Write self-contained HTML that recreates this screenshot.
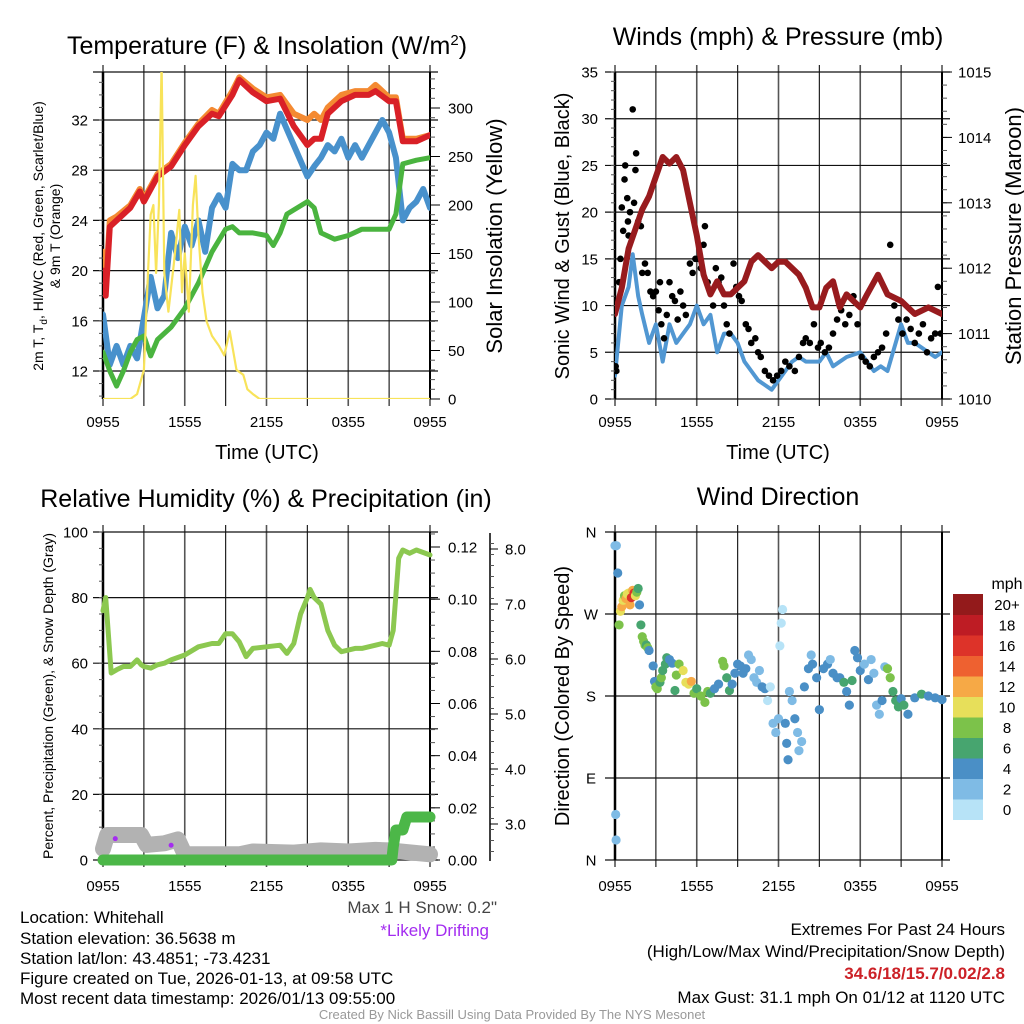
<!DOCTYPE html>
<html><head><meta charset="utf-8">
<style>
html,body{margin:0;padding:0;background:#fff;}
svg{display:block;font-family:"Liberation Sans",sans-serif;}
</style></head>
<body>
<svg id="fig" width="1024" height="1024" viewBox="0 0 1024 1024" xmlns="http://www.w3.org/2000/svg">
<rect width="1024" height="1024" fill="#fff"/>
<g id="static" font-size="17" fill="#000">
<text x="267" y="54" font-size="25" text-anchor="middle">Temperature (F) &amp; Insolation (W/m<tspan font-size="15" dy="-9">2</tspan><tspan dy="9">)</tspan></text>
<text x="778" y="45" font-size="25" text-anchor="middle">Winds (mph) &amp; Pressure (mb)</text>
<text x="266" y="507" font-size="25" text-anchor="middle">Relative Humidity (%) &amp; Precipitation (in)</text>
<text x="778" y="505" font-size="25" text-anchor="middle">Wind Direction</text>
<text x="267" y="459" font-size="20" text-anchor="middle">Time (UTC)</text>
<text x="778" y="459" font-size="20" text-anchor="middle">Time (UTC)</text>
<text transform="translate(43,236) rotate(-90)" font-size="14" text-anchor="middle">2m T, T<tspan font-size="10" dy="4">d</tspan><tspan dy="-4">, HI/WC (Red, Green, Scarlet/Blue)</tspan></text>
<text transform="translate(60,236) rotate(-90)" font-size="14" text-anchor="middle">&amp; 9m T (Orange)</text>
<text transform="translate(502,236) rotate(-90)" font-size="22" text-anchor="middle">Solar Insolation (Yellow)</text>
<text transform="translate(569,236) rotate(-90)" font-size="20" text-anchor="middle">Sonic Wind &amp; Gust (Blue, Black)</text>
<text transform="translate(1021,236) rotate(-90)" font-size="22" text-anchor="middle">Station Pressure (Maroon)</text>
<text transform="translate(53,696) rotate(-90)" font-size="14" text-anchor="middle">Percent, Precipitation (Green), &amp; Snow Depth (Gray)</text>
<text transform="translate(569,696) rotate(-90)" font-size="20" text-anchor="middle">Direction (Colored By Speed)</text>
<text x="1007" y="589" font-size="16" text-anchor="middle">mph</text>
<g>
<text x="20" y="923">Location: Whitehall</text>
<text x="20" y="944">Station elevation: 36.5638 m</text>
<text x="20" y="964">Station lat/lon: 43.4851; -73.4231</text>
<text x="20" y="984">Figure created on Tue, 2026-01-13, at 09:58 UTC</text>
<text x="20" y="1004">Most recent data timestamp: 2026/01/13 09:55:00</text>
</g>
<text x="497" y="913" text-anchor="end" fill="#444">Max 1 H Snow: 0.2"</text>
<text x="489" y="936" text-anchor="end" fill="#a32cf0">*Likely Drifting</text>
<g text-anchor="end">
<text x="1005" y="935">Extremes For Past 24 Hours</text>
<text x="1005" y="957">(High/Low/Max Wind/Precipitation/Snow Depth)</text>
<text x="1005" y="979" fill="#cc2127" font-weight="bold">34.6/18/15.7/0.02/2.8</text>
<text x="1005" y="1003">Max Gust: 31.1 mph On 01/12 at 1120 UTC</text>
</g>
<text x="512" y="1019" text-anchor="middle" font-size="13" fill="#999">Created By Nick Bassill Using Data Provided By The NYS Mesonet</text>
</g>
<g id="dyn"></g>
</svg>
<script>
// ---- Temperature panel data (hours since 0955 UTC) ----
const tHours=[0,0.2,0.5,1,2,2.7,3,4,5,6,7,8,8.5,9.5,10,11,12,13,14,15,15.5,16,16.5,17.5,18.5,19.5,20,21,21.5,22,23,24];
const tRed=[20,18,23.5,24,25,26.3,25.5,27.5,28.3,30,31.5,32.5,32.3,34,35.2,34.2,33.5,33.7,31.5,30,30.5,30.5,32.5,33.5,34,34,34.3,33.5,33.5,30.3,30.3,30.8];
const tOrange=[21.5,18.5,24,24.3,25.2,26.5,25.7,27.7,28.5,30.2,31.7,32.8,32.5,34.3,35.4,34.5,33.8,34,32.5,32,32.5,32,33,34,34.3,34.3,34.8,33.8,33.8,30.5,30.5,30.8];
const bHours=[0,0.5,1,1.5,2,2.5,3.5,4,4.5,5,5.5,6,6.5,7,7.5,8,8.5,9,9.5,10,10.5,11,11.5,12,12.5,13,15,15.5,16,16.5,17,17.5,18,18.5,19,19.5,20,20.5,21,21.5,22,22.5,23,23.5,24];
const tBlue=[16.5,12.5,14,12.5,14,13,19.5,17,18,23,21,23.5,22,24,21.5,25,26,25,28.5,28,28,29.5,30,31,30.5,32.5,27.5,28.3,29,30,29.5,30.5,29,30,29,30,31,32,31,29,24,25,25.5,26.5,25];
const gHours=[0,0.5,1,1.5,2,2.5,3,3.5,4,5,6,7,8,9,9.5,10,11,12,12.5,13,13.5,15,15.5,16,17,18,19,20,21,21.5,22,23,24];
const tGreen=[13.5,12,10.8,12,13.5,14.5,14.8,13.2,14.5,15.5,17,19,21.5,23.3,23.5,23,23,22.8,22,23,24.5,25.5,25,23,22.5,22.8,23.3,23.3,23.3,24.5,28.5,28.8,29];
const sHours=[0,2,2.5,3,3.3,3.5,3.7,3.9,4.1,4.3,4.5,4.8,5.2,5.6,5.8,6,6.3,6.6,6.8,7,7.3,7.6,8,8.5,8.9,9.3,9.8,10.3,10.6,11,11.5,24];
const solar=[0,0,5,30,130,190,200,130,200,345,130,90,140,195,110,150,90,200,230,170,110,80,65,55,45,70,30,25,10,5,0,0];
const tempTicks=[12,16,20,24,28,32];
const solarTicks=[0,50,100,150,200,250,300];
const timeLabels=["0955","1555","2155","0355","0955"];
// ---- Wind panel data ----
const wHours=[0,0.5,1,1.3,1.7,2,2.5,3,3.5,4,4.5,5,5.5,6,6.5,7,7.5,8,8.5,9,9.5,10,10.5,11,11.5,12,12.5,13,13.5,14,15,15.5,16,17,18,19,19.5,20,21,21.5,22,23,23.5,24];
const windSpd=[2.5,10,12,15.5,11,9,6,8,4,8,6,7,8,10,8,9,5,7,7,6,4,3,2,1.5,1,2,3,4,4.5,4,4,5,3.5,4.5,5,3,3.5,3,8,6,6,5,4.5,5];
const gustHours=[0.05,0.1,0.3,0.4,0.5,0.6,0.7,0.75,0.9,0.95,1,1.1,1.3,1.4,1.5,1.55,1.7,1.9,2,2.2,2.4,2.6,2.8,3,3.2,3.3,3.4,3.6,3.8,4,4.2,4.4,4.6,4.8,5,5.2,5.5,5.7,5.9,6.1,6.3,6.5,6.6,6.8,7,7.2,7.4,7.6,7.8,8,8.2,8.4,8.7,8.9,9.1,9.3,9.6,9.8,10,10.3,10.5,10.7,11,11.3,11.6,11.9,12.2,12.5,12.8,13.2,13.5,13.8,14,14.3,14.6,14.9,15.1,15.4,15.7,16,16.3,16.6,16.9,17.2,17.5,17.8,18.1,18.4,18.7,19,19.3,19.6,19.9,20.2,20.5,20.8,21.1,21.4,21.7,22,22.3,22.6,22.9,23.2,23.5,23.7,23.9];
const gusts=[3.5,3,12.5,15,20.5,18,23.5,25,21.5,19,17.5,20,31,21,24.5,26.3,19,18.5,13.5,14.5,13.5,11.5,11,11.5,9.5,12.5,8,6.5,9,12.5,11,10.5,8.5,11.5,10,9,14.5,13.5,15,15,14,16.5,18.5,12.5,11.5,10,14,12.5,13,10,8,7,14.5,12,11,10.5,8,7.5,6,6.5,5,4.5,3,2.5,2,2.5,3,4,3.5,3,4.5,6,6.5,6,8,5.5,6,5,5.5,7,8.5,9.5,8,9,11,8,4.5,4,3.5,4.5,5,5.5,7,16.5,10,8.5,7,8.5,7.5,6,7,8,5,6.5,7,12,7];
const pHours=[0,0.5,1,2,2.5,3,3.5,4,4.5,5,5.5,6,6.5,7,7.5,8,8.5,9,9.5,10,10.5,11,11.5,12,12.5,13,13.5,14,14.5,15,15.5,16,16.5,17,17.5,18,18.5,19.3,20,21,21.5,22,23,24];
const pressure=[1011.3,1011.7,1012.3,1012.9,1013.1,1013.4,1013.7,1013.6,1013.7,1013.5,1013,1012.5,1011.9,1011.6,1011.8,1011.6,1011.6,1011.7,1011.8,1012.1,1012.2,1012.1,1012,1012.1,1012.1,1012,1011.9,1011.7,1011.4,1011.4,1011.7,1011.8,1011.4,1011.6,1011.5,1011.4,1011.6,1011.9,1011.6,1011.5,1011.4,1011.3,1011.4,1011.3];
const windTicks=[0,5,10,15,20,25,30,35];
const pressTicks=[1010,1011,1012,1013,1014,1015];
// ---- RH panel data ----
const rhHours=[0,0.2,0.6,1,1.5,2,2.5,2.8,3,3.5,4,4.5,5,6,7,8,8.5,9,9.5,10,10.5,11,12,13,13.5,14,14.5,15,15.2,15.5,16,16.5,17,17.5,18,18.5,19,20,20.5,21,21.3,21.7,22,22.5,23,24];
const rh=[76,80,57,58,59,59,61,59.5,59,58.5,59.5,60,61,62.5,65,66,66,69,69,66.5,62,64.5,65,65.5,63,66,75,80,82.5,80,78,70,65.5,63.5,64,64.5,64.5,65.5,66,65.5,70,92,94.5,93.5,94.5,93];
const snowHours=[0,0.3,2.8,3.2,4.5,5.5,6,10,11,14,16,18,20,21,24];
const snowDepth=[2.55,2.8,2.8,2.62,2.65,2.72,2.45,2.45,2.5,2.48,2.52,2.5,2.53,2.52,2.45];
const precipHours=[0,21.2,21.3,21.5,22,22.3,24];
const precip=[0,0,0.005,0.0115,0.0115,0.0165,0.0165];
const driftHours=[0.9,5.0];
const driftPct=[6.5,4.5];
const rhTicks=[0,20,40,60,80,100];
const precipTicks=[0,0.02,0.04,0.06,0.08,0.10,0.12];
const snowTicks=[3,4,5,6,7,8];
// ---- Wind direction data ----
const dirHours=[0,0.1,0.2,0.3,0.4,0.5,0.6,0.7,0.8,0.9,1,1.1,1.2,1.3,1.4,1.5,1.6,1.7,1.8,1.9,2,2.1,2.2,2.3,2.4,2.5,2.8,2.9,3,3.1,3.3,3.4,3.5,3.7,3.8,4,4.2,4.4,4.5,4.7,5,5.2,5.4,5.6,5.8,6,6.3,6.6,6.8,7,7.3,7.6,7.9,8,8.2,8.4,8.6,8.8,9,9.2,9.4,9.6,9.8,10,10.2,10.4,10.6,10.8,11,11.2,11.4,11.6,11.8,12,12.1,12.2,12.3,12.5,12.6,12.7,12.8,13,13.2,13.4,13.5,13.7,13.9,14.2,14.4,14.5,14.8,15,15.3,15.6,15.8,16,16.3,16.5,16.8,17,17.2,17.4,17.6,17.8,18,18.3,18.6,18.8,19,19.2,19.4,19.6,19.8,20,20.2,20.4,20.6,20.8,21,21.2,21.5,22,22.5,23,23.5,24,0.05,0.08];
const dirDeg=[345,345,315,258,273,278,285,290,287,292,293,280,288,296,293,290,294,298,280,258,245,240,236,236,233,230,213,196,190,188,195,200,208,215,222,220,216,186,203,215,208,195,193,196,183,188,180,173,185,183,188,193,218,213,200,186,193,205,215,213,205,210,225,220,200,195,208,190,188,175,190,150,140,155,235,260,275,150,128,110,185,175,155,140,120,130,190,210,225,215,200,165,210,215,220,205,200,200,195,185,170,197,230,222,208,215,198,220,205,170,160,175,212,210,200,185,175,168,177,170,160,178,182,180,178,176,50,22];
const dirSpd=[2,2,4,8,11,12,10,8,12,10,11,13,17,12,16,10,8,6,4,6,8,8,8,6,8,4,4,4,8,8,6,8,6,6,6,4,4,6,8,8,10,10,10,12,8,6,8,8,8,6,4,4,8,8,6,6,4,4,4,4,4,4,2,2,2,2,2,4,4,0,0,2,2,2,0,0,0,4,4,4,2,2,4,2,2,2,4,4,2,4,4,4,4,4,2,4,4,4,6,4,4,6,4,4,4,2,4,2,2,2,2,4,2,8,8,6,6,6,4,6,4,4,6,4,4,4,2,2];
const dirTickLabels=["N","E","S","W","N"];
const speedBins=["0","2","4","6","8","10","12","14","16","18","20+"];
const speedColors=["#b7e3f7","#7fbbe5","#4a8fc6","#47a56f","#7cc24a","#e7df5a","#f6a946","#ee6130","#dd3329","#be1c24","#931a1b"];

const NS="http://www.w3.org/2000/svg";
const dyn=document.getElementById('dyn');
function el(parent,tag,attrs,txt){const e=document.createElementNS(NS,tag);for(const k in attrs)e.setAttribute(k,attrs[k]);if(txt!==undefined)e.textContent=txt;parent.appendChild(e);return e;}
function lin(d0,d1,r0,r1){return v=>r0+(v-d0)*(r1-r0)/(d1-d0);}

function panel(name){
  const g=el(dyn,'g',{});
  
  
  return g;
}
function grid(g,x0,x1,yT,yB,hy,showLabels,labY){
  for(let i=0;i<=8;i++){const x=x0+(x1-x0)*i/8;
    const l=el(g,'line',{x1:x,x2:x,y1:yT-7,y2:yB+7,stroke:i%2?'#222':'#555','stroke-width':i%2?1.2:1.6});
    
    
    if(i%2===0&&showLabels){const t=el(g,'text',{x:x,y:labY,'text-anchor':'middle','font-size':15},timeLabels[i/2]);
      
      }
  }
  hy.forEach(y=>{const l=el(g,'line',{x1:x0-10,x2:x1+8,y1:y,y2:y,stroke:'#111','stroke-width':1.2});
    
    });
  const f=el(g,'line',{x1:x0,x2:x0,y1:yT,y2:yB,stroke:'#000','stroke-width':2.5});
  
  
  const r=el(g,'line',{x1:x1,x2:x1,y1:yT,y2:yB,stroke:'#000','stroke-width':2});
  
  
}
function ticks(g,x,ys,len){ys.forEach(y=>{const l=el(g,'line',{x1:x,x2:x+len,y1:y,y2:y,stroke:'#555','stroke-width':1});
  
  });}
function label(g,x,y,s,anchor,name){const t=el(g,'text',{x:x,y:y+5.5,'text-anchor':anchor,'font-size':15},s);
  
  }
function path(g,xs,ys,fx,fy,attrs,name){let d='',pen=false;
  xs.forEach((h,i)=>{if(ys[i]===null){pen=false;return;}d+=(pen?'L':'M')+fx(h).toFixed(1)+','+fy(ys[i]).toFixed(1);pen=true;});
  const p=el(g,'path',Object.assign({d:d,fill:'none','stroke-linejoin':'round','stroke-linecap':'round'},attrs));
  
  return p;}

// ===== Panel 1 =====
(function(){
  const x0=103,x1=430,yT=72,yB=399;
  const fx=lin(0,24,x0,x1), fy=lin(12,32,371,120), fs=lin(0,300,399,108);
  const g=panel('temperature');
  const cp=el(g,'clipPath',{id:'c1'});el(cp,'rect',{x:x0,y:yT,width:x1-x0,height:yB-yT});
  grid(g,x0,x1,yT,yB,tempTicks.map(fy).concat([yT]),true,427);
  const minor=[];for(let v=10;v<=35;v++)minor.push(fy(v));ticks(g,x0,minor,-4);
  const rm=[];for(let v=0;v<=330;v+=10)rm.push(fs(v));ticks(g,x1,rm,5);
  tempTicks.forEach(v=>label(g,88,fy(v),String(v),'end','temp-tick-label'));
  solarTicks.forEach(v=>{label(g,448,fs(v),String(v),'start','solar-tick-label');
    const l=el(g,'line',{x1:x1,x2:x1+10,y1:fs(v),y2:fs(v),stroke:'#000'});
    
    });
  const d=el(g,'g',{'clip-path':'url(#c1)'});
  path(d,tHours,tOrange,fx,fy,{stroke:'#f48a32','stroke-width':6},'9m-temp-line');
  path(d,tHours,tRed,fx,fy,{stroke:'#d92027','stroke-width':6},'2m-temp-line');
  path(d,bHours,tBlue,fx,fy,{stroke:'#4891cc','stroke-width':6},'wind-chill-line');
  path(d,gHours,tGreen,fx,fy,{stroke:'#4ab43f','stroke-width':5},'dewpoint-line');
  path(d,sHours,solar,fx,fs,{stroke:'#f8e35a','stroke-width':2.2},'insolation-line');
})();

// ===== Panel 2 =====
(function(){
  const x0=615,x1=942,yT=72,yB=399;
  const fx=lin(0,24,x0,x1), fy=lin(0,35,yB,yT), fp=lin(1010,1015,yB,yT);
  const g=panel('wind');
  const cp=el(g,'clipPath',{id:'c2'});el(cp,'rect',{x:x0,y:yT-5,width:x1-x0,height:yB-yT+5});
  grid(g,x0,x1,yT,yB,windTicks.map(fy),true,427);
  const minor=[];for(let v=0;v<=35;v++)minor.push(fy(v));ticks(g,x0,minor,-4);
  const rm=[];for(let v=1010;v<=1015.01;v+=0.2)rm.push(fp(v));ticks(g,x1,rm,5);
  windTicks.forEach(v=>label(g,598,fy(v),String(v),'end','wind-tick-label'));
  pressTicks.forEach(v=>{label(g,958,fp(v),String(v),'start','pressure-tick-label');
    const l=el(g,'line',{x1:x1,x2:x1+10,y1:fp(v),y2:fp(v),stroke:'#000'});
    
    });
  const d=el(g,'g',{'clip-path':'url(#c2)'});
  path(d,wHours,windSpd,fx,fy,{stroke:'#5197d2','stroke-width':4},'wind-speed-line');
  gusts.forEach((v,i)=>{const c=el(d,'circle',{cx:fx(gustHours[i]),cy:fy(v),r:3.3,fill:'#000'});
    
    });
  path(d,pHours,pressure,fx,fp,{stroke:'#981b1e','stroke-width':6},'pressure-line');
})();

// ===== Panel 3 =====
(function(){
  const x0=103,x1=430,yT=532,yB=860;
  const fx=lin(0,24,x0,x1), fy=lin(0,100,yB,yT), fpr=lin(0,0.12,yB,547), fsn=lin(3,8,824,549);
  const g=panel('humidity');
  grid(g,x0,x1,yT,yB,rhTicks.map(fy),true,891);
  const minor=[];for(let v=0;v<=100;v+=5)minor.push(fy(v));ticks(g,x0,minor,-4);
  const rm=[];for(let v=0;v<=0.1251;v+=0.005)rm.push(fpr(v));ticks(g,x1,rm,5);
  rhTicks.forEach(v=>label(g,88,fy(v),String(v),'end','rh-tick-label'));
  precipTicks.forEach(v=>{label(g,448,fpr(v),v.toFixed(2),'start','precip-tick-label');
    const l=el(g,'line',{x1:x1,x2:x1+10,y1:fpr(v),y2:fpr(v),stroke:'#000'});
    
    });
  const sa=el(g,'line',{x1:490,x2:490,y1:533,y2:861,stroke:'#000','stroke-width':1.5});
  
  
  const sm=[];for(let v=2.5;v<=8.21;v+=0.2)sm.push(fsn(v));ticks(g,490,sm,4);
  snowTicks.forEach(v=>{label(g,505,fsn(v),v.toFixed(1),'start','snow-tick-label');
    const l=el(g,'line',{x1:490,x2:498,y1:fsn(v),y2:fsn(v),stroke:'#000'});
    
    });
  path(g,snowHours,snowDepth,fx,fsn,{stroke:'#b2b2b2','stroke-width':16},'snow-depth-line');
  path(g,precipHours,precip,fx,fpr,{stroke:'#4cb748','stroke-width':11},'precip-line');
  path(g,rhHours,rh,fx,fy,{stroke:'#8cc850','stroke-width':5},'rh-line');
  driftHours.forEach((h,i)=>{const c=el(g,'circle',{cx:fx(h),cy:fy(driftPct[i]),r:2.5,fill:'#a52cf0'});
    
    });
})();

// ===== Panel 4 =====
(function(){
  const x0=615,x1=942,yT=532,yB=860;
  const fx=lin(0,24,x0,x1), fy=lin(0,360,yB,yT);
  const g=panel('wind-direction');
  grid(g,x0,x1,yT,yB,[0,90,180,270,360].map(fy),true,891);
  dirTickLabels.forEach((s,i)=>label(g,591,fy(i*90),s,'middle','direction-tick-label'));
  dirDeg.forEach((v,i)=>{const b=Math.min(10,Math.floor(dirSpd[i]/2));
    const c=el(g,'circle',{cx:fx(dirHours[i]),cy:fy(v),r:4.6,fill:speedColors[b]});
    
    });
  const top=594,h=20.5;
  speedBins.forEach((s,i)=>{const y=top+(10-i)*h;
    const r=el(g,'rect',{x:953,y:y,width:30,height:h+0.5,fill:speedColors[i]});
    
    
    label(g,1007,y+h/2,s,'middle','colorbar-label');});
})();
</script>
</body></html>
